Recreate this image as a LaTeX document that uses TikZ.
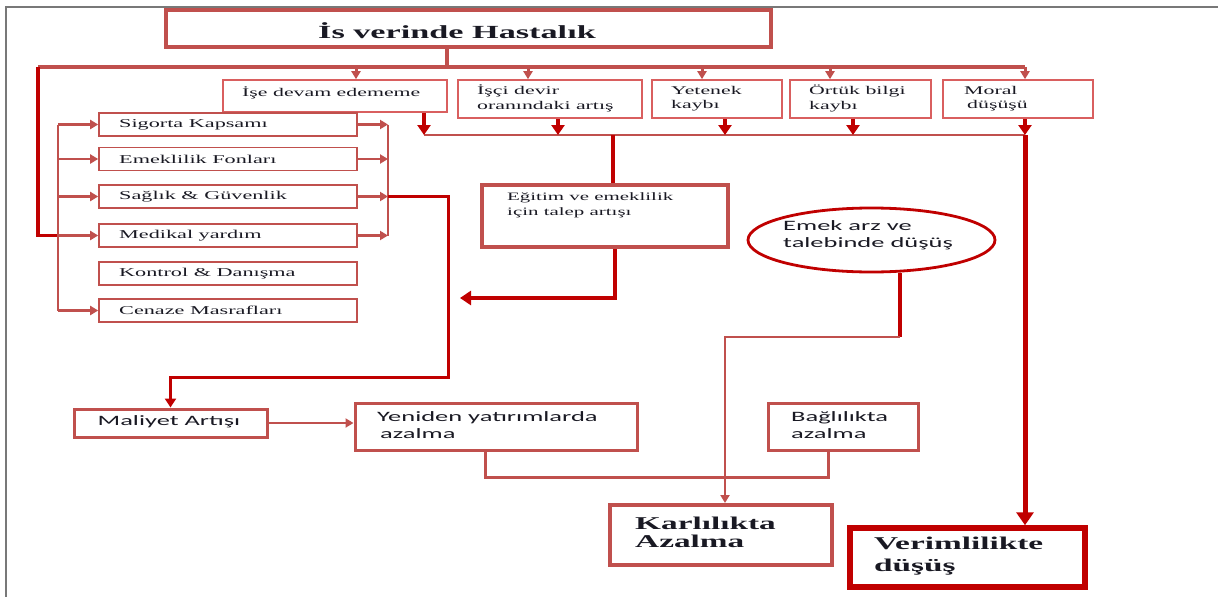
\documentclass[tikz,border=0pt]{standalone}
\usepackage{fontspec}
\setmainfont{Liberation Serif}[FakeStretch=1.85]
\newfontfamily\sansf{Carlito}[FakeStretch=1.85]
\usetikzlibrary{arrows.meta,shapes.geometric,calc}
\definecolor{boxc}{RGB}{192,80,77}
\definecolor{darkc}{RGB}{192,0,0}
\definecolor{lightc}{RGB}{217,95,95}
\definecolor{framec}{RGB}{120,120,120}
\definecolor{inkc}{RGB}{25,25,35}
\newcommand{\fTitle}{\fontsize{18.5}{22}\selectfont\bfseries}
\newcommand{\fTop}{\fontsize{11.8}{14.5}\selectfont}
\newcommand{\fLeft}{\fontsize{12}{14}\selectfont}
\newcommand{\fEg}{\fontsize{11.3}{15}\selectfont}
\newcommand{\fBigK}{\fontsize{18}{18}\selectfont\bfseries}
\newcommand{\fBigV}{\fontsize{18}{22}\selectfont\bfseries}
\newcommand{\fSans}{\sansf\fontsize{14.3}{17}\selectfont}
\tikzset{
  bx/.style={draw=boxc, line width=1.6pt, inner sep=0pt, rectangle},
  bxl/.style={draw=lightc, line width=1.6pt, inner sep=0pt, rectangle},
  txt/.style={inner sep=0pt, anchor=west, align=left, text=inkc},
  thinc/.style={draw=boxc, line width=2.5pt},
  arrS/.style={draw=boxc, line width=2.5pt, -{Triangle[width=9pt,length=8pt]}},
  arrD/.style={draw=darkc, line width=3.5pt, -{Triangle[width=13pt,length=10pt]}},
}
\begin{document}
\begin{tikzpicture}[x=1pt,y=-1pt]
\useasboundingbox (0,0) rectangle (1218,597);
% frame
\draw[framec, line width=2pt] (1218,6.5) -- (6,6.5) -- (6,597);

% boxes
\node[bx, line width=3.5pt, minimum width=605, minimum height=37] (title) at (468.5,28.5) {};
\node[bxl, minimum width=224, minimum height=32] (ise) at (335,96) {};
\node[bxl, minimum width=184, minimum height=38] (isci) at (550,99) {};
\node[bxl, minimum width=130, minimum height=38] (yet) at (717,99) {};
\node[bxl, minimum width=141, minimum height=38] (ort) at (860.5,99) {};
\node[bxl, minimum width=150, minimum height=38] (mor) at (1018,99) {};

\node[bx, minimum width=258, minimum height=23] (sig) at (228,124.5) {};
\node[bx, minimum width=258, minimum height=23] (emk) at (228,159) {};
\node[bx, minimum width=258, minimum height=23] (sag) at (228,196.5) {};
\node[bx, minimum width=258, minimum height=23] (med) at (228,235.5) {};
\node[bx, minimum width=258, minimum height=23] (kon) at (228,273.5) {};
\node[bx, minimum width=258, minimum height=23] (cen) at (228,310.5) {};

\node[bx, line width=4.5pt, minimum width=246, minimum height=62] (eg) at (605,216) {};
\node[draw=darkc, line width=2.8pt, ellipse, inner sep=0pt, minimum width=247, minimum height=64] (ell) at (871.5,240) {};

\node[bx, line width=3pt, minimum width=193, minimum height=28] (mal) at (170.5,423) {};
\node[bx, line width=3pt, minimum width=282, minimum height=47] (yen) at (496,426.5) {};
\node[bx, line width=3pt, minimum width=150, minimum height=47] (bag) at (843,426.5) {};
\node[bx, line width=4pt, minimum width=222, minimum height=60] (karl) at (721,535) {};
\node[draw=darkc, line width=5.5pt, inner sep=0pt, minimum width=235, minimum height=59] (ver) at (967.5,557.5) {};

% texts
\node[txt, font=\fTitle] (titlet) at (318,31) {İs verinde Hastalık};
\node[txt, font=\fTop] (iset) at (242,93) {İşe devam  edememe};
\node[txt, font=\fTop] (iscit) at (477,98.5) {İşçi devir\\oranındaki artış};
\node[txt, font=\fTop] (yett) at (671,98.5) {Yetenek\\kaybı};
\node[txt, font=\fTop] (ortt) at (809,98.5) {Örtük bilgi\\kaybı};
\node[txt, font=\fTop] (mort) at (964,98.5) {Moral\\\hspace*{3pt}düşüşü};

\node[txt, font=\fLeft] (sigt) at (119,124.5) {Sigorta Kapsamı};
\node[txt, font=\fLeft] (emkt) at (119,159) {Emeklilik Fonları};
\node[txt, font=\fLeft] (sagt) at (119,196.5) {Sağlık \& Güvenlik};
\node[txt, font=\fLeft] (medt) at (119,235.5) {Medikal yardım};
\node[txt, font=\fLeft] (kont) at (119,273.5) {Kontrol \& Danışma};
\node[txt, font=\fLeft] (cent) at (119,310.5) {Cenaze Masrafları};

\node[txt, font=\fEg] (egt) at (507,205) {Eğitim ve emeklilik\\için talep artışı};
\node[txt, font=\fSans] (ellt) at (783,235) {Emek arz ve\\talebinde düşüş};

\node[inner sep=0pt, text=inkc, font=\fSans] (malt) at (169,422) {Maliyet Artışı};
\node[txt, font=\fSans] (yent) at (377,425) {Yeniden yatırımlarda\\\hspace*{3pt}azalma};
\node[txt, font=\fSans] (bagt) at (791,425.5) {Bağlılıkta\\azalma};
\node[txt, font=\fBigK] (karlt) at (635,532) {Karlılıkta\\Azalma};
\node[txt, font=\fBigV] (vert) at (874,556) {Verimlilikte\\düşüş};

% junction coordinates
\coordinate (j0) at (447,67);
\coordinate (hL) at (38,67);
\coordinate (hR) at (1025,67);
\coordinate (t1) at (356,67);
\coordinate (t2) at (528,67);
\coordinate (t3) at (702,67);
\coordinate (t4) at (830,67);
\coordinate (lb) at (38,235.5);
\coordinate (lj) at (58,235.5);
\coordinate (rj) at (388,196.5);
\coordinate (m1) at (448,196.5);
\coordinate (m2) at (448,377);
\coordinate (h2L) at (424,135);
\coordinate (h2R) at (1025,135);
\coordinate (k2) at (558,135);
\coordinate (k3) at (725,135);
\coordinate (k4) at (853,135);
\coordinate (e1) at (613,135);
\coordinate (e2) at (615,298);
\coordinate (e3) at (460,298);
\coordinate (q1) at (900,337);
\coordinate (q2) at (725,337);
\coordinate (b1) at (828,477);
\coordinate (b2) at (485,477);

% top distribution
\draw[boxc, line width=3.5pt] (title.south -| j0) -- (j0);
\draw[boxc, line width=3.5pt] (hL) -- (hR);
\draw[arrS, line width=3pt] (t1) -- (t1 |- ise.north);
\draw[arrS, line width=3pt] (t2) -- (t2 |- isci.north);
\draw[arrS, line width=3pt] (t3) -- (t3 |- yet.north);
\draw[arrS, line width=3pt] (t4) -- (t4 |- ort.north);
\draw[arrS, line width=3pt] (hR) -- (hR |- mor.north);

% left outer and bracket
\draw[darkc, line width=3.5pt, line join=miter] (hL) -- (lb) -- (lj);
\draw[thinc] (sig.west -| lj) -- (cen.west -| lj);
\foreach \n in {sig,emk,sag,med,cen}
  \draw[arrS] (\n.west -| lj) -- (\n.west);

% right bracket
\draw[thinc] (sig.east -| rj) -- (med.east -| rj);
\foreach \n in {sig,emk,sag,med}
  \draw[arrS] (\n.east) -- (\n.east -| rj);

% to Maliyet
\draw[draw=darkc, line width=3pt, -{Triangle[width=11pt,length=9pt]}] (rj) -- (m1) -- (m2) -- (m2 -| mal.north) -- (mal.north);

% second line
\draw[thinc] (h2L) -- (h2R);
\draw[arrD] (ise.south -| h2L) -- (h2L);
\draw[arrD] (isci.south -| k2) -- (k2);
\draw[arrD] (yet.south -| k3) -- (k3);
\draw[arrD] (ort.south -| k4) -- (k4);
\draw[arrD] (mor.south -| h2R) -- (h2R);

% Egitim
\draw[darkc, line width=4pt] (e1) -- (e1 |- eg.north);
\draw[draw=darkc, line width=4pt, -{Triangle[width=14pt,length=11pt]}] (e2 |- eg.south) -- (e2) -- (e3);

% ellipse to Karlilikta
\draw[darkc, line width=4pt] (q1 |- ell.south) -- (q1);
\draw[arrS] (q1) -- (q2) -- (q2 |- karl.north);

% Baglilikta to Yeniden
\draw[boxc, line width=3pt] (b1 |- bag.south) -- (b1) -- (b2) -- (b2 |- yen.south);

% Maliyet to Yeniden
\draw[arrS] (mal.east) -- (mal.east -| yen.west);

% to Verimlilikte
\draw[draw=darkc, line width=5pt, -{Triangle[width=17pt,length=13pt]}] (h2R) -- (h2R |- ver.north);
\end{tikzpicture}
\end{document}
